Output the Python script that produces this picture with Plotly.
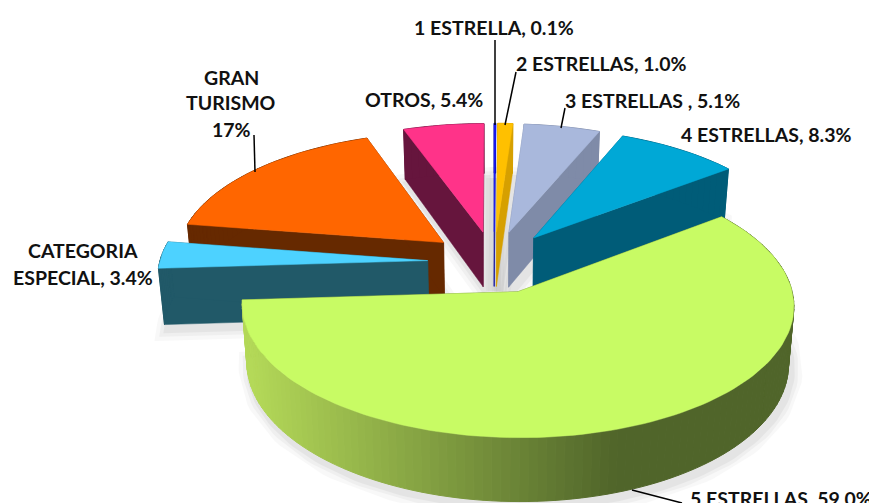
import math
import plotly.graph_objects as go

# ---- data
categories = ["1 ESTRELLA", "2 ESTRELLAS", "3 ESTRELLAS", "4 ESTRELLAS", "5 ESTRELLAS",
              "CATEGORIA ESPECIAL", "GRAN TURISMO", "OTROS"]
values = [0.1, 1.0, 5.1, 8.3, 59.0, 3.4, 17.0, 5.4]
top_colors = ["#1A1AFF", "#FFC000", "#A9B8DC", "#00A8D6", "#C8FB64", "#4DD2FF", "#FF6600", "#FF3389"]
wall_colors = ["#1010A0", "#D6A000", "#7F8BA8", "#005C78", "#50652A", "#215968", "#662900", "#66153D"]
draw_order = [7, 0, 1, 2, 3, 6, 5, 4]

label_lines = [
    ("1 ESTRELLA, 0.1%", 494, 27), ("2 ESTRELLAS, 1.0%", 601, 63), ("3 ESTRELLAS , 5.1%", 652, 100),
    ("4 ESTRELLAS, 8.3%", 766, 134), ("5 ESTRELLAS, 59.0%", 781, 498), ("CATEGORIA", 83, 250),
    ("ESPECIAL, 3.4%", 83, 277), ("GRAN", 231, 77), ("TURISMO", 231, 102), ("17%", 231, 129),
    ("OTROS, 5.4%", 424, 99),
]
leaders = [((495, 40), (495, 125)), ((516, 72), (505, 125)), ((565, 108), (561, 128)),
           ((254, 135), (255, 172)), ((632, 490), (682, 503))]

# ---- projection
CX, CY, RX, RY, K, H, EXPLODE, TAPER = 494, 262, 268, 125, 0.10, 56, 0.248, 0.018
total = sum(values)


def project(u, v, z=0.0):
    w = 1 + K * v
    return CX + RX * u / w * (1 - TAPER * z), CY - RY * v / w + z * H / w


def poly(fig, pts, color, line=0.0, opacity=1.0):
    fig.add_trace(go.Scatter(x=[p[0] for p in pts] + [pts[0][0]], y=[p[1] for p in pts] + [pts[0][1]],
                             mode="lines", fill="toself", fillcolor=color, opacity=opacity,
                             line=dict(color=color, width=line), hoverinfo="skip", showlegend=False))


def mix(a, b, t):
    ca = [int(a[i:i + 2], 16) for i in (1, 3, 5)]
    cb = [int(b[i:i + 2], 16) for i in (1, 3, 5)]
    return "#" + "".join(f"{round(x + (y - x) * t):02X}" for x, y in zip(ca, cb))


slices = []
acc = 0.0
for val in values:
    a0 = acc / total * 2 * math.pi
    acc += val
    a1 = acc / total * 2 * math.pi
    mid = (a0 + a1) / 2
    ou, ov = EXPLODE * math.sin(mid), EXPLODE * math.cos(mid)
    n = max(2, int((a1 - a0) / 0.03))
    arc = [(ou + math.sin(a0 + (a1 - a0) * i / n), ov + math.cos(a0 + (a1 - a0) * i / n)) for i in range(n + 1)]
    slices.append(((ou, ov), arc))

fig = go.Figure()

# soft shadows
for i in draw_order:
    tip, arc = slices[i]
    pts = [project(*tip, 1.0)] + [project(u, v, 1.0) for u, v in arc]
    pts = [(x + 3, y + 5) for x, y in pts]
    for width, op in ((22, 0.05), (14, 0.07), (7, 0.09)):
        poly(fig, pts, "#808080", line=width, opacity=op)

for i in draw_order:
    tip, arc = slices[i]
    top = [project(*tip)] + [project(u, v) for u, v in arc]
    wall = wall_colors[i]
    for a, b in ((arc[0], tip), (arc[-1], tip)):
        poly(fig, [project(*a), project(*b), project(*b, 1.0), project(*a, 1.0)], wall, line=0.5)
    for j in range(len(arc) - 1):
        a, b = arc[j], arc[j + 1]
        col = wall
        if i == 4:
            x = project(*a)[0]
            t = min(1.0, max(0.0, (x - 250) / 370))
            col = mix("#B4D958", wall, t)
        poly(fig, [project(*a), project(*b), project(*b, 1.0), project(*a, 1.0)], col, line=1)
    poly(fig, top, top_colors[i], line=0.5)

for (x0, y0), (x1, y1) in leaders:
    fig.add_trace(go.Scatter(x=[x0, x1], y=[y0, y1], mode="lines", line=dict(color="black", width=1.5),
                             hoverinfo="skip", showlegend=False))

for text, x, y in label_lines:
    fig.add_annotation(x=x, y=y, xref="x", yref="y", text=f"<b>{text}</b>", showarrow=False,
                       xanchor="center", yanchor="middle",
                       font=dict(family="Lato", size=19.5, color="#111111"))

fig.update_layout(width=869, height=503, margin=dict(l=0, r=0, t=0, b=0),
                  paper_bgcolor="white", plot_bgcolor="white", showlegend=False,
                  xaxis=dict(range=[0, 869], visible=False, fixedrange=True),
                  yaxis=dict(range=[503, 0], visible=False, fixedrange=True))
fig.write_html("out.html", config={"displayModeBar": False},
               post_script="document.body.style.margin='0';document.documentElement.style.overflow='hidden';")
